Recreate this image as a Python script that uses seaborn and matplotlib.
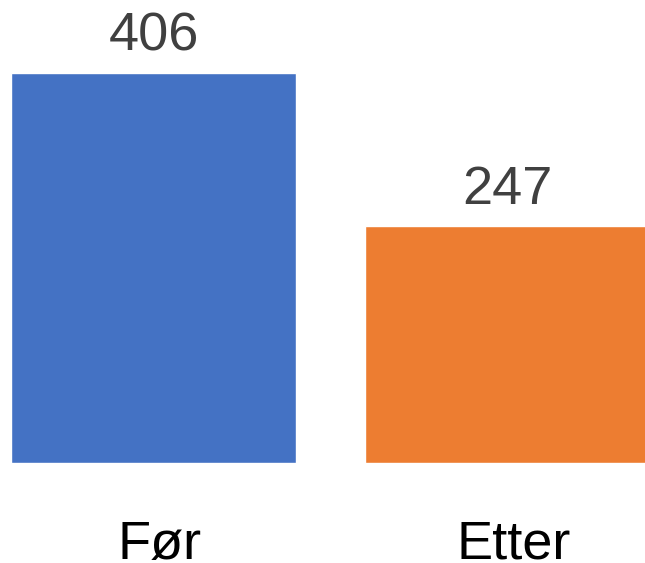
import matplotlib
matplotlib.use("Agg")
import matplotlib.pyplot as plt
import matplotlib.transforms as mtransforms
import seaborn as sns
import pandas as pd

# Data
categories = ["Før", "Etter"]
values = [406, 247]
colors = ["#4472C4", "#ED7D31"]

sns.set_style("white")
plt.rcParams["font.family"] = ["Liberation Sans", "DejaVu Sans"]

df = pd.DataFrame({"kategori": categories, "antall": values})

fig = plt.figure(figsize=(6.45, 5.63), dpi=100)
ax = fig.add_axes([0, 100 / 563, 1, 463 / 563])

sns.barplot(data=df, x="kategori", y="antall", hue="kategori",
            palette=colors, saturation=1, width=0.805, legend=False, ax=ax)

for cont in ax.containers:
    ax.bar_label(cont, fmt="%d", padding=8, fontsize=39, color="#404040")

ax.set_ylim(0, 482.0)
ax.set_xlim(-0.4335, 1.388)
ax.set_xlabel("")
ax.set_ylabel("")
ax.set_yticks([])
ax.tick_params(axis="x", length=0, pad=41, labelsize=39, labelcolor="black")

# category labels sit slightly right of the bar centres
shift = mtransforms.ScaledTranslation(6 / 100, 0, fig.dpi_scale_trans)
for lbl in ax.get_xticklabels():
    lbl.set_transform(lbl.get_transform() + shift)

for s in ax.spines.values():
    s.set_visible(False)

fig.savefig("out.png", dpi=100)
